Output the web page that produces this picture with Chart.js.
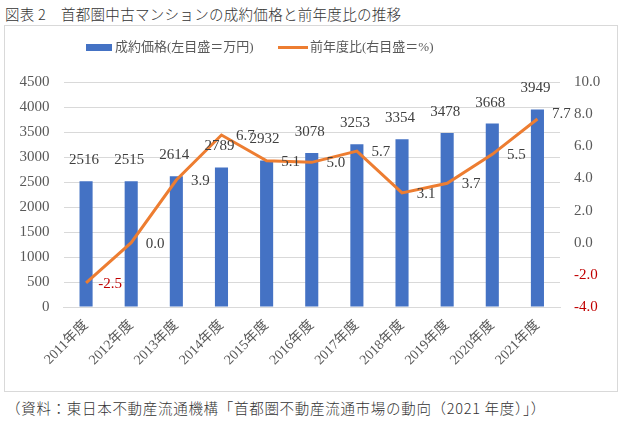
<!DOCTYPE html>
<html>
<head>
<meta charset="utf-8">
<script src="https://cdn.jsdelivr.net/npm/chart.js@4"></script>
<style>
  body { margin: 0; background: #fff; width: 630px; height: 423px; position: relative; overflow: hidden; }
  #title { position: absolute; left: 5px; top: 3px; font: 300 14.5px 'Noto Sans CJK JP', sans-serif; color: #333; white-space: nowrap; letter-spacing: 0.3px; }
  #box { position: absolute; left: 4px; top: 25px; width: 614px; height: 367px; border: 1px solid #d9d9d9; box-sizing: border-box; }
  #box canvas { position: absolute; left: 0; top: 0; }
  #source { position: absolute; left: 6px; top: 397px; font: 300 14.5px 'Noto Sans CJK JP', sans-serif; color: #333; white-space: nowrap; letter-spacing: 0.7px; }
</style>
</head>
<body>
<div id="title">図表 2　首都圏中古マンションの成約価格と前年度比の推移</div>
<div id="box"><canvas id="chart" width="612" height="365"></canvas></div>
<div id="source">（資料：東日本不動産流通機構「首都圏不動産流通市場の動向（2021 年度）」）</div>
<script>
// data
const years = ['2011年度', '2012年度', '2013年度', '2014年度', '2015年度', '2016年度', '2017年度', '2018年度', '2019年度', '2020年度', '2021年度'];
const prices = [2516, 2515, 2614, 2789, 2932, 3078, 3253, 3354, 3478, 3668, 3949];
const yoy = [-2.5, 0.0, 3.9, 6.7, 5.1, 5.0, 5.7, 3.1, 3.7, 5.5, 7.7];
const priceLabel = '成約価格(左目盛＝万円)';
const yoyLabel = '前年度比(右目盛＝%)';
const leftAxis = { min: 0, max: 4500, step: 500 };
const rightAxis = { min: -4, max: 10, step: 2 };

const BLUE = '#4472C4';
const ORANGE = '#ED7D31';
const RED = '#C00000';
const GREY = '#595959';
const SERIF = "'Liberation Serif', 'Noto Sans CJK JP', serif";

// value labels + legend, drawn on the canvas
const labelPlugin = {
  id: 'labels',
  afterDatasetsDraw(chart) {
    const ctx = chart.ctx;
    ctx.save();
    ctx.font = '15px ' + SERIF;
    ctx.textAlign = 'center';
    ctx.textBaseline = 'middle';

    const bars = chart.getDatasetMeta(0).data;
    bars.forEach((bar, i) => {
      ctx.fillStyle = '#404040';
      ctx.fillText(String(prices[i]), bar.x - 2, bar.y - 21);
    });

    const pts = chart.getDatasetMeta(1).data;
    pts.forEach((pt, i) => {
      ctx.fillStyle = yoy[i] < 0 ? RED : '#404040';
      ctx.fillText(yoy[i].toFixed(1), pt.x + 24, pt.y + (i === pts.length - 1 ? -5 : 1));
    });

    // legend
    ctx.font = '13px ' + SERIF;
    ctx.textAlign = 'left';
    ctx.fillStyle = BLUE;
    ctx.fillRect(81, 18, 26, 7);
    ctx.fillStyle = GREY;
    ctx.fillText(priceLabel, 110, 22);
    ctx.strokeStyle = ORANGE;
    ctx.lineWidth = 3;
    ctx.beginPath();
    ctx.moveTo(273, 21.5);
    ctx.lineTo(303, 21.5);
    ctx.stroke();
    ctx.fillText(yoyLabel, 305, 22);
    ctx.restore();
  }
};

new Chart(document.getElementById('chart'), {
  data: {
    labels: years,
    datasets: [
      {
        type: 'bar',
        label: priceLabel,
        data: prices,
        backgroundColor: BLUE,
        yAxisID: 'y',
        categoryPercentage: 1,
        barPercentage: 0.29,
        order: 1
      },
      {
        type: 'line',
        label: yoyLabel,
        data: yoy,
        borderColor: ORANGE,
        borderWidth: 3,
        pointRadius: 0,
        tension: 0,
        yAxisID: 'y1',
        order: 0
      }
    ]
  },
  plugins: [labelPlugin],
  options: {
    responsive: false,
    animation: false,
    layout: { padding: { top: 56, left: 0, right: 0, bottom: 0 } },
    plugins: {
      legend: { display: false },
      tooltip: { enabled: false }
    },
    scales: {
      x: {
        grid: { display: false },
        border: { color: '#d9d9d9' },
        ticks: {
          color: GREY,
          font: { family: SERIF, size: 14 },
          minRotation: 45,
          maxRotation: 45,
          padding: 2
        },
        afterFit(scale) { scale.height = 84; }
      },
      y: {
        position: 'left',
        min: leftAxis.min,
        max: leftAxis.max,
        ticks: {
          stepSize: leftAxis.step,
          color: GREY,
          font: { family: SERIF, size: 15 },
          padding: 14,
          callback: v => String(v)
        },
        grid: { color: '#d9d9d9', drawTicks: false },
        border: { display: false },
        afterFit(scale) { scale.width = 58.5; }
      },
      y1: {
        position: 'right',
        min: rightAxis.min,
        max: rightAxis.max,
        ticks: {
          stepSize: rightAxis.step,
          color: ctx => ctx.tick && ctx.tick.value < 0 ? RED : GREY,
          font: { family: SERIF, size: 15 },
          padding: 14,
          callback: v => Number(v).toFixed(1)
        },
        grid: { display: false, drawTicks: false },
        border: { display: false },
        afterFit(scale) { scale.width = 57; }
      }
    }
  }
});
</script>
</body>
</html>
